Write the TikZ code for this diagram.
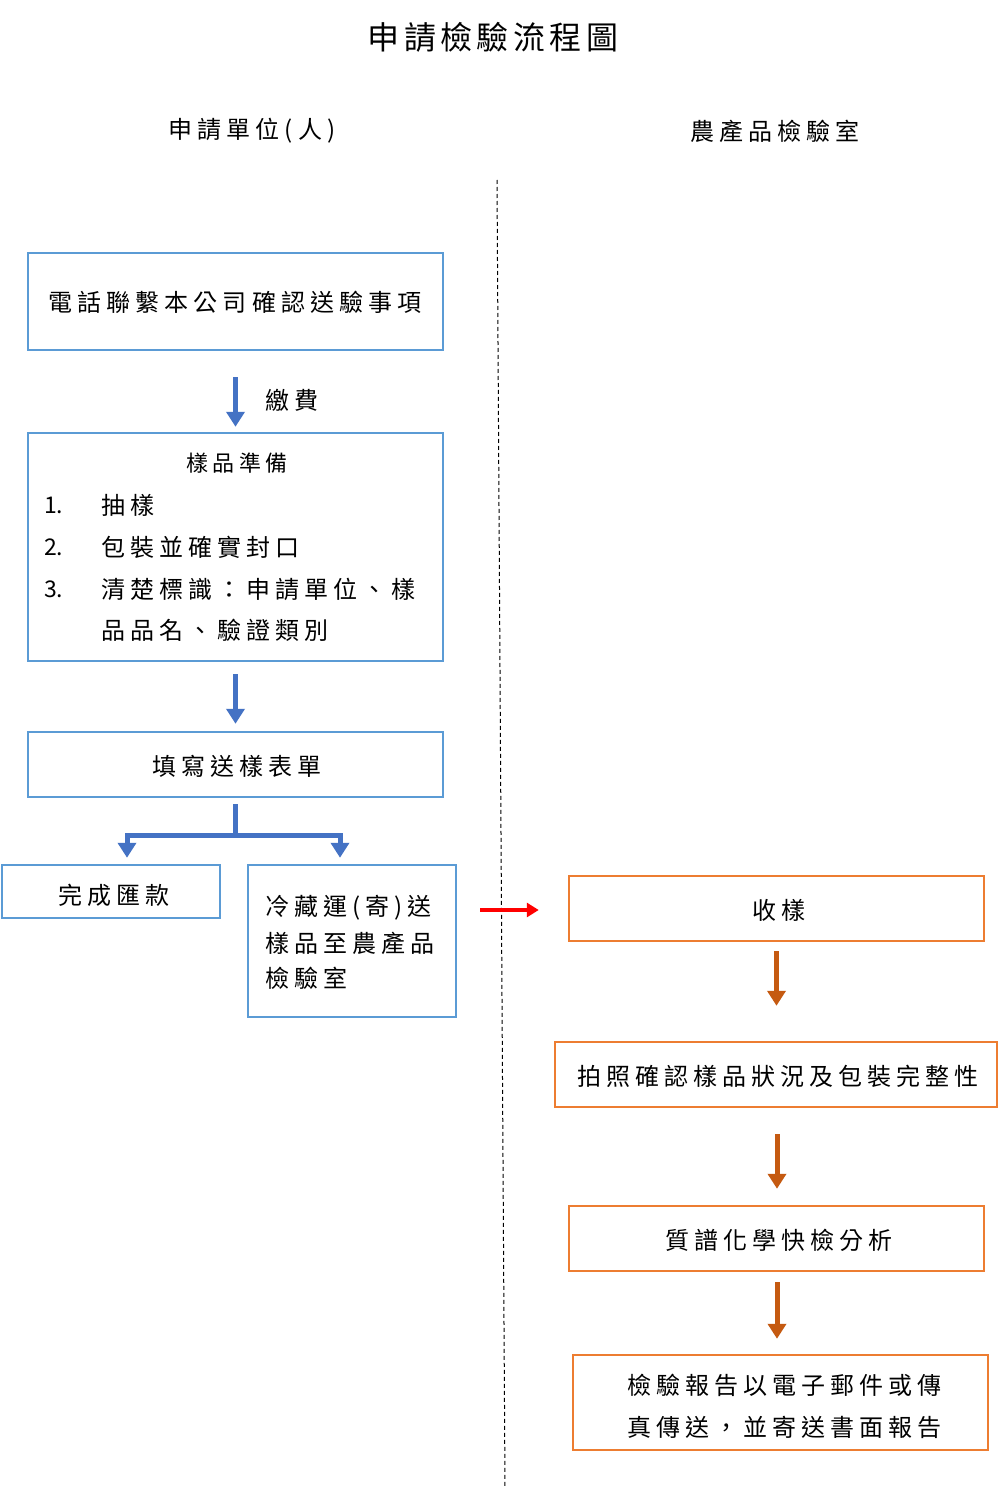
\documentclass[tikz,border=0pt]{standalone}
\usepackage{fontspec}
\setmainfont{Noto Sans CJK TC}[LetterSpace=21]
\newfontfamily\titlefont{Noto Sans CJK TC}[LetterSpace=14]
\newfontfamily\numfont{Noto Sans CJK TC}
\usetikzlibrary{arrows.meta,calc}
\definecolor{boxblue}{HTML}{5B9BD5}
\definecolor{arrblue}{HTML}{4472C4}
\definecolor{boxorange}{HTML}{ED7D31}
\definecolor{arrorange}{HTML}{C55A11}
\begin{document}
\begin{tikzpicture}[x=1pt,y=-1pt,
  txt/.style={font=\fontsize{24}{29}\selectfont, inner sep=0pt},
  smalltxt/.style={font=\fontsize{22}{27}\selectfont, inner sep=0pt},
  bluebox/.style={draw=boxblue, line width=2.5pt, rectangle, inner sep=0pt},
  orbox/.style={draw=boxorange, line width=2.5pt, rectangle, inner sep=0pt},
  blline/.style={draw=arrblue, line width=5pt},
  blarrow/.style={draw=arrblue, line width=5pt, -{Triangle[width=18pt,length=15pt]}},
  orarrow/.style={draw=arrorange, line width=5pt, -{Triangle[width=18pt,length=15pt]}},
  redarrow/.style={draw=red, line width=4pt, -{Triangle[width=14pt,length=12pt]}}]
\useasboundingbox (0,0) rectangle (998,1490);
\fill[white] (0,0) rectangle (998,1490);

% titles
\node[font=\fontsize{32}{36}\selectfont\titlefont, inner sep=0pt] (title) at (493,37) {申請檢驗流程圖};
\node[txt] (hleft) at (252,131) {申請單位(人)};
\node[txt] (hright) at (775,131) {農產品檢驗室};

% divider
\coordinate (dtop) at (497,180);
\coordinate (dbot) at (505,1488);
\draw[black, line width=1pt, dash pattern=on 4pt off 3pt] (dtop) -- (dbot);

% left column
\node[bluebox, minimum width=415pt, minimum height=97pt] (call) at (235.5,301.5) {};
\node[txt] (calltxt) at (235,302) {電話聯繫本公司確認送驗事項};

\node[bluebox, minimum width=415pt, minimum height=228pt] (prep) at (235.5,547) {};
\node[smalltxt] (preptitle) at (237,463) {樣品準備};
\node[txt, anchor=west, font=\fontsize{23}{29}\selectfont\numfont] (n1) at (44,505) {1.};
\node[txt, anchor=west, font=\fontsize{23}{29}\selectfont\numfont] (n2) at (44,547) {2.};
\node[txt, anchor=west, font=\fontsize{23}{29}\selectfont\numfont] (n3) at (44,589) {3.};
\node[txt, anchor=west] (i1) at (101,505) {抽樣};
\node[txt, anchor=west] (i2) at (101,547) {包裝並確實封口};
\node[txt, anchor=west] (i3) at (101,589) {清楚標識：申請單位、樣};
\node[txt, anchor=west] (i4) at (101,630) {品品名、驗證類別};

\node[bluebox, minimum width=415pt, minimum height=65pt] (form) at (235.5,764.5) {};
\node[txt] (formtxt) at (237,766) {填寫送樣表單};

\node[bluebox, minimum width=218pt, minimum height=53pt] (pay) at (111,891.5) {};
\node[txt] (paytxt) at (114,895) {完成匯款};

\node[bluebox, minimum width=208pt, minimum height=152pt] (cold) at (352,941) {};
\node[txt, anchor=west] (c1) at (265,908) {冷藏運(寄)送};
\node[txt, anchor=west] (c2) at (265,943) {樣品至農產品};
\node[txt, anchor=west] (c3) at (265,978) {檢驗室};

% left arrows
\draw[blarrow, shorten <=26pt, shorten >=5pt] (call.south) -- (prep.north);
\node[txt, anchor=west] (fee) at (265,400) {繳費};
\draw[blarrow, shorten <=12pt, shorten >=7pt] (prep.south) -- (form.north);
\draw[blline] ([yshift=-6pt]form.south) -- ++(0,31) coordinate (split);
\draw[blarrow] (split) -| ([xshift=16pt,yshift=6pt]pay.north);
\draw[blarrow] (split) -| ([xshift=-12pt,yshift=6pt]cold.north);

% right column
\node[orbox, minimum width=415pt, minimum height=65pt] (recv) at (776.5,908.5) {};
\node[txt] (recvtxt) at (779,910) {收樣};
\node[orbox, minimum width=442pt, minimum height=65pt] (photo) at (776,1074.5) {};
\node[txt] (phototxt) at (778,1076) {拍照確認樣品狀況及包裝完整性};
\node[orbox, minimum width=415pt, minimum height=65pt] (ms) at (776.5,1238.5) {};
\node[txt] (mstxt) at (779,1240) {質譜化學快檢分析};
\node[orbox, minimum width=415pt, minimum height=95pt] (report) at (780.5,1402.5) {};
\node[txt, anchor=west] (r1) at (627,1385) {檢驗報告以電子郵件或傳};
\node[txt, anchor=west] (r2) at (627,1427) {真傳送，並寄送書面報告};

\draw[orarrow, shorten <=9pt, shorten >=35pt] (recv.south) -- (recv.south |- photo.north);
\draw[orarrow, shorten <=26pt, shorten >=16pt] ([xshift=1pt]photo.south) -- ([xshift=1pt]photo.south |- ms.north);
\draw[orarrow, shorten <=10pt, shorten >=15pt] ([xshift=0.5pt]ms.south) -- ([xshift=0.5pt]ms.south |- report.north);

% cross-lane arrow
\coordinate (redstart) at (480,910);
\draw[redarrow] (redstart) -- (redstart -| {$(recv.west)+(-29,0)$});
\end{tikzpicture}
\end{document}
